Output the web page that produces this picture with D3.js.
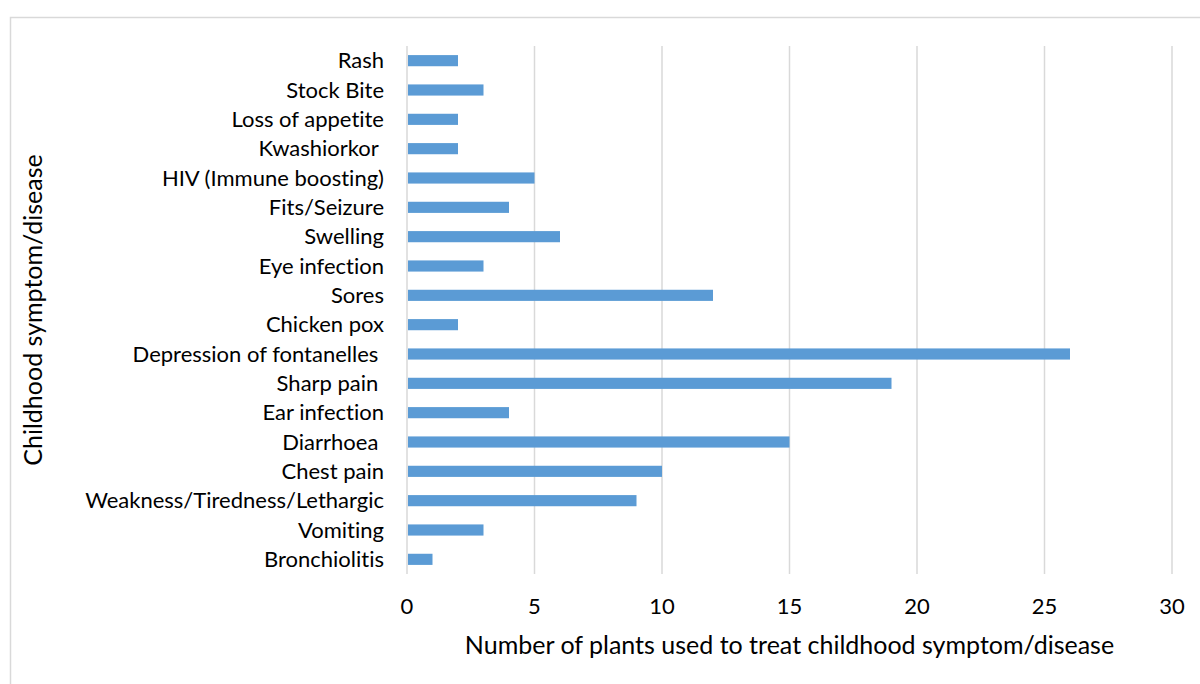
<!DOCTYPE html>
<html>
<head>
<meta charset="utf-8">
<script src="https://cdn.jsdelivr.net/npm/d3@7"></script>
<style>
  html, body { margin: 0; padding: 0; background: #fff; }
  svg text { font-family: Lato, "Open Sans", sans-serif; fill: #000; font-variant-ligatures: none; }
</style>
</head>
<body>
<svg id="chart" width="1200" height="684"></svg>
<script>
// Childhood symptoms / diseases, listed top to bottom
const categories = [
  "Rash", "Stock Bite", "Loss of appetite", "Kwashiorkor ", "HIV (Immune boosting)",
  "Fits/Seizure", "Swelling", "Eye infection", "Sores", "Chicken pox",
  "Depression of fontanelles ", "Sharp pain ", "Ear infection", "Diarrhoea ",
  "Chest pain", "Weakness/Tiredness/Lethargic", "Vomiting", "Bronchiolitis"
];
// Number of plants used for each
const plantCounts = [2, 3, 2, 2, 5, 4, 6, 3, 12, 2, 26, 19, 4, 15, 10, 9, 3, 1];
const xTicks = [0, 5, 10, 15, 20, 25, 30];
const xTitle = "Number of plants used to treat childhood symptom/disease";
const yTitle = "Childhood symptom/disease";

const svg = d3.select("#chart");

// Outer chart frame
svg.append("rect")
  .attr("x", 10.5).attr("y", 17.5)
  .attr("width", 1200).attr("height", 700)
  .attr("fill", "none").attr("stroke", "#d9d9d9").attr("stroke-width", 1.5);

const plot = { left: 407, right: 1172, top: 46, bottom: 574 };

const x = d3.scaleLinear().domain([0, 30]).range([plot.left, plot.right]);
const y = d3.scaleBand().domain(categories).range([plot.top, plot.bottom]).paddingInner(0.62).paddingOuter(0.31);

// Vertical gridlines
svg.append("g")
  .selectAll("line")
  .data(xTicks)
  .join("line")
  .attr("x1", d => x(d)).attr("x2", d => x(d))
  .attr("y1", plot.top).attr("y2", plot.bottom)
  .attr("stroke", "#d9d9d9").attr("stroke-width", 1.5);

// Bars
svg.append("g")
  .selectAll("rect")
  .data(categories)
  .join("rect")
  .attr("x", x(0) + 1)
  .attr("y", d => y(d))
  .attr("width", (d, i) => x(plantCounts[i]) - x(0) - 1)
  .attr("height", y.bandwidth())
  .attr("fill", "#5b9bd5");

// Category labels
svg.append("g")
  .selectAll("text")
  .data(categories)
  .join("text")
  .attr("x", 384)
  .attr("y", d => y(d) + y.bandwidth() / 2)
  .attr("dy", "0.35em")
  .attr("text-anchor", "end")
  .style("white-space", "pre")
  .attr("font-size", 22)
  .text(d => d);

// X tick labels
svg.append("g")
  .selectAll("text")
  .data(xTicks)
  .join("text")
  .attr("x", d => x(d))
  .attr("y", 606)
  .attr("dy", "0.35em")
  .attr("text-anchor", "middle")
  .attr("font-size", 22)
  .text(d => d);

// Axis titles
svg.append("text")
  .attr("x", (plot.left + plot.right) / 2)
  .attr("y", 645)
  .attr("dy", "0.35em")
  .attr("text-anchor", "middle")
  .attr("font-size", 25)
  .text(xTitle);

svg.append("text")
  .attr("transform", `translate(33, ${(plot.top + plot.bottom) / 2}) rotate(-90)`)
  .attr("dy", "0.35em")
  .attr("text-anchor", "middle")
  .attr("font-size", 25)
  .text(yTitle);
</script>
</body>
</html>
